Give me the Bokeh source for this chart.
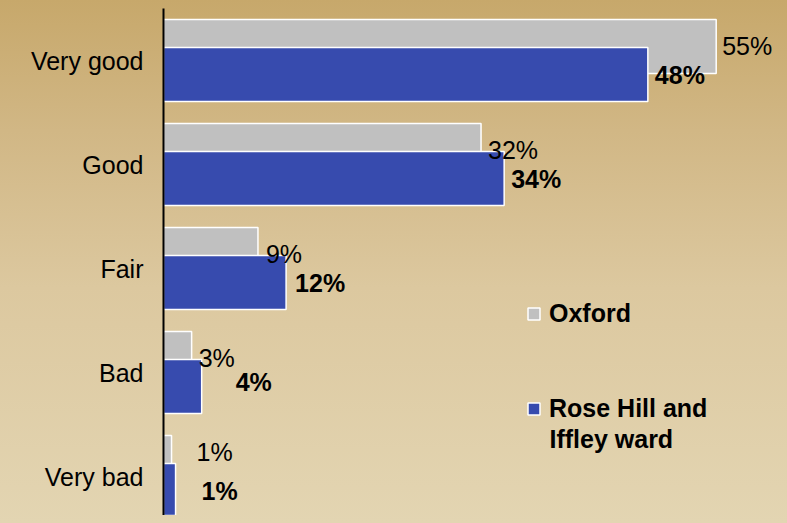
import re
from bokeh.plotting import figure
from bokeh.models import ColumnDataSource, LabelSet, Legend, LegendItem, FixedTicker, Label
from bokeh.core.properties import value
from bokeh.embed import file_html
from bokeh.resources import INLINE

# ---- data ----
categories = ["Very good", "Good", "Fair", "Bad", "Very bad"]
oxford = [55.0, 31.6, 9.4, 2.8, 0.8]
rose_hill = [48.2, 33.9, 12.2, 3.8, 1.2]
oxford_labels = ["55%", "32%", "9%", "3%", "1%"]
rose_hill_labels = ["48%", "34%", "12%", "4%", "1%"]
series_names = ["Oxford", "Rose Hill and", "Iffley ward"]

# ---- styling / label nudges (pixels) ----
oxford_dx = [6, 7, 8, 7, 25]
oxford_dy = [0, 0, 0, 0, 10]
rose_dx = [7, 7, 9, 34, 26]
rose_dy = [0, 0, 0, 5, 0]

GREY = "#c0c0c0"
BLUE = "#374bae"
FONT = "Liberation Sans"
FS = "25px"
BAR_H = 0.52
SHIFT = 0.135

n = len(categories)
pos = [n - 1 - i for i in range(n)]

src_ox = ColumnDataSource(dict(
    y=[p_ + SHIFT for p_ in pos], v=oxford, lab=oxford_labels,
    dx=oxford_dx, dy=oxford_dy))
src_rh = ColumnDataSource(dict(
    y=[p_ - SHIFT for p_ in pos], v=rose_hill, lab=rose_hill_labels,
    dx=rose_dx, dy=rose_dy))

p = figure(width=771, height=507, x_range=(0, 61.3), y_range=(-0.375, 4.5),
           output_backend="svg", toolbar_location=None,
           min_border_left=155, min_border_right=0, min_border_top=0,
           min_border_bottom=0, outline_line_color=None,
           background_fill_color=None, border_fill_color=None)

r_ox = p.hbar(y="y", right="v", left=0, height=BAR_H, source=src_ox,
              fill_color=GREY, line_color="white", line_width=1.5)
r_rh = p.hbar(y="y", right="v", left=0, height=BAR_H, source=src_rh,
              fill_color=BLUE, line_color="white", line_width=1.5)

p.add_layout(LabelSet(x="v", y="y", text="lab", source=src_ox,
                      x_offset="dx", y_offset="dy",
                      text_font=value(FONT), text_font_size=FS,
                      text_baseline="middle", text_align="left",
                      text_color="black"))
p.add_layout(LabelSet(x="v", y="y", text="lab", source=src_rh,
                      x_offset="dx", y_offset="dy",
                      text_font=value(FONT), text_font_size=FS,
                      text_font_style="bold",
                      text_baseline="middle", text_align="left",
                      text_color="black"))

p.xgrid.visible = False
p.ygrid.visible = False
p.xaxis.visible = False

ya = p.yaxis[0]
ya.ticker = FixedTicker(ticks=pos)
ya.major_label_overrides = {pp: c for pp, c in zip(pos, categories)}
ya.major_tick_line_color = None
ya.minor_tick_line_color = None
ya.major_tick_in = 0
ya.major_tick_out = 0
ya.major_label_standoff = 20
ya.axis_line_color = "black"
ya.axis_line_width = 2
ya.major_label_text_font = FONT
ya.major_label_text_font_size = FS
ya.major_label_text_color = "black"

legend = Legend(items=[LegendItem(label=series_names[0], renderers=[r_ox]),
                       LegendItem(label=series_names[1], renderers=[r_rh])],
                location=(363, 92), orientation="vertical",
                background_fill_alpha=0, border_line_color=None,
                glyph_width=15, glyph_height=15, label_standoff=8,
                spacing=66, padding=0, margin=0,
                label_text_font=FONT, label_text_font_size=FS,
                label_text_font_style="bold", label_text_color="black")
p.add_layout(legend, "center")

p.add_layout(Label(x=386, y=77, x_units="screen", y_units="screen",
                   text=series_names[2], text_font=FONT, text_font_size=FS,
                   text_font_style="bold", text_color="black",
                   text_baseline="alphabetic", text_align="left"))

html = file_html(p, INLINE)
style = ("<style>html{height:100%;background:linear-gradient(to bottom,"
         "#c7a86b 0%,#d1b785 25%,#dcc89f 55%,#e3d5b2 100%) no-repeat;}"
         "body{margin:8px;background:transparent;}</style></head>")
html = html.replace("</head>", style, 1)
open("out.html", "w").write(html)
